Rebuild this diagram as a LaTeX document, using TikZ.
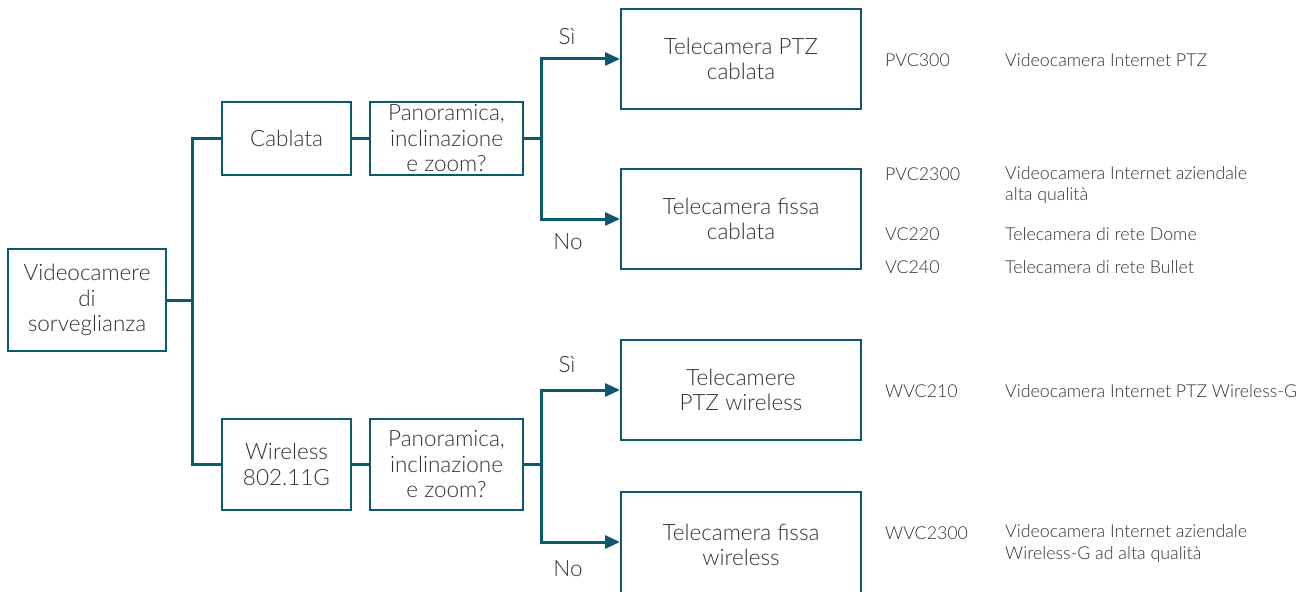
\documentclass[tikz,border=0pt]{standalone}
\usepackage{fontspec}
\setmainfont{Lato Light}
\usetikzlibrary{arrows.meta}
\definecolor{teal0}{RGB}{12,88,108}
\definecolor{txt}{RGB}{50,50,50}
\begin{document}
\begin{tikzpicture}[x=1pt,y=-1pt,
 box/.style={draw=teal0, line width=2pt, fill=white, text=txt, align=center,
   font=\fontsize{22.5}{25.5}\selectfont, inner sep=0pt},
 conn/.style={draw=teal0, line width=3pt},
 tip/.tip={Triangle[length=15pt,width=13pt]},
 lbl/.style={text=txt, font=\fontsize{22.5}{25.5}\selectfont, inner sep=0pt},
 tab/.style={text=txt, anchor=west, align=left, font=\fontsize{17.8}{21.5}\selectfont, inner sep=0pt}]
\useasboundingbox (0,0) rectangle (1305,591);
\clip (0,0) rectangle (1305,591);

\node[box, minimum width=158pt, minimum height=102pt] (root) at (87,300) {Videocamere\\di\\sorveglianza};
\node[box, minimum width=129pt, minimum height=73pt] (cab) at (286.5,138.5) {Cablata};
\node[box, minimum width=153pt, minimum height=73pt] (pant) at (446.5,138.5) {Panoramica,\\inclinazione\\e zoom?};
\node[box, minimum width=129pt, minimum height=91pt] (wir) at (286.5,464.5) {Wireless\\802.11G};
\node[box, minimum width=153pt, minimum height=91pt] (panb) at (446.5,464.5) {Panoramica,\\inclinazione\\e zoom?};

\node[box, minimum width=240pt, minimum height=100pt] (ptzc) at (741,59) {Telecamera PTZ\\cablata};
\node[box, minimum width=240pt, minimum height=100pt] (fixc) at (741,219) {Telecamera fissa\\cablata};
\node[box, minimum width=240pt, minimum height=100pt] (ptzw) at (741,390) {Telecamere\\PTZ wireless};
\node[box, minimum width=240pt, minimum height=106pt] (fixw) at (741,545) {Telecamera fissa\\wireless};

\coordinate (j1) at (192,300);
\coordinate (j2) at (541,138.5);
\coordinate (j3) at (541,464.5);

\draw[conn] (root.east) -- (j1);
\draw[conn] (cab.west) -| (j1) |- (wir.west);
\draw[conn] (cab.east) -- (pant.west);
\draw[conn] (wir.east) -- (panb.west);
\draw[conn] (pant.east) -- (j2);
\draw[conn] (panb.east) -- (j3);
\draw[conn, tip-tip] (ptzc.west |- 0,59) -| (j2) |- (fixc.west);
\draw[conn, tip-tip] (ptzw.west) -| (j3) |- (fixw.west |- 0,542);

\node[lbl] (si1) at (567,37) {Sì};
\node[lbl] (no1) at (568,242) {No};
\node[lbl] (si2) at (567,365) {Sì};
\node[lbl] (no2) at (568,569) {No};

\node[tab] (c1) at (885,60) {PVC300};
\node[tab] (d1) at (1005,60) {Videocamera Internet PTZ};
\node[tab] (c2) at (885,174) {PVC2300};
\node[tab] (d2) at (1005,185) {Videocamera Internet aziendale\\alta qualità};
\node[tab] (c3) at (885,234) {VC220};
\node[tab] (d3) at (1005,234) {Telecamera di rete Dome};
\node[tab] (c4) at (885,267) {VC240};
\node[tab] (d4) at (1005,267) {Telecamera di rete Bullet};
\node[tab] (c5) at (885,391) {WVC210};
\node[tab] (d5) at (1005,391) {Videocamera Internet PTZ Wireless-G};
\node[tab] (c6) at (885,533) {WVC2300};
\node[tab] (d6) at (1005,543.5) {Videocamera Internet aziendale\\Wireless-G ad alta qualità};
\end{tikzpicture}
\end{document}
